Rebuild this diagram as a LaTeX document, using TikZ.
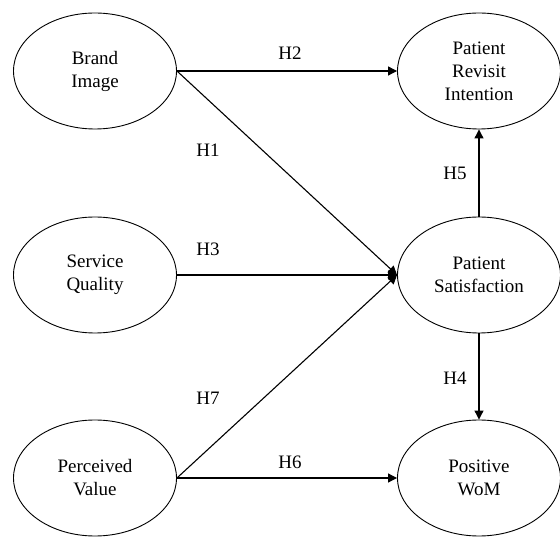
\documentclass[tikz,border=0pt]{standalone}
\usepackage{fontspec}
\setmainfont{Liberation Serif}
\usepackage{tikz}
\usetikzlibrary{arrows.meta, positioning, shapes.geometric}

\begin{document}
\begin{tikzpicture}[x=1pt, y=1pt,
    construct/.style={draw, line width=0.9pt, ellipse, minimum width=163pt, minimum height=116pt, inner sep=0pt, align=center, font=\fontsize{19}{23}\selectfont},
    hyp/.style={font=\fontsize{19}{23}\selectfont},
    path/.style={-{Triangle[length=9pt, width=9pt]}, line width=1.1pt}]
  \useasboundingbox (0, 0) rectangle (560, 536);
  \node[construct] (bi) at (95, 465) {Brand\\Image};
  \node[construct] (pri) at (479, 465) {Patient\\Revisit\\Intention};
  \node[construct] (sq) at (95, 261) {Service\\Quality};
  \node[construct] (ps) at (479, 261) {Patient\\Satisfaction};
  \node[construct] (pv) at (95, 58) {Perceived\\Value};
  \node[construct] (wom) at (479, 58) {Positive\\WoM};
  \node[hyp] (h2) at (290, 483) {H2};
  \node[hyp] (h1) at (208, 386) {H1};
  \node[hyp] (h3) at (208, 287) {H3};
  \node[hyp] (h7) at (208, 138) {H7};
  \node[hyp] (h6) at (290, 74) {H6};
  \node[hyp] (h5) at (455, 363) {H5};
  \node[hyp] (h4) at (455, 158) {H4};
  \draw[path] (bi.east) -- (pri.west);
  \draw[path] (bi.east) -- (ps.west);
  \draw[path] (sq.east) -- (ps.west);
  \draw[path] (pv.east) -- (ps.west);
  \draw[path] (pv.east) -- (wom.west);
  \draw[path] (ps.north) -- (pri.south);
  \draw[path] (ps.south) -- (wom.north);
\end{tikzpicture}
\end{document}
